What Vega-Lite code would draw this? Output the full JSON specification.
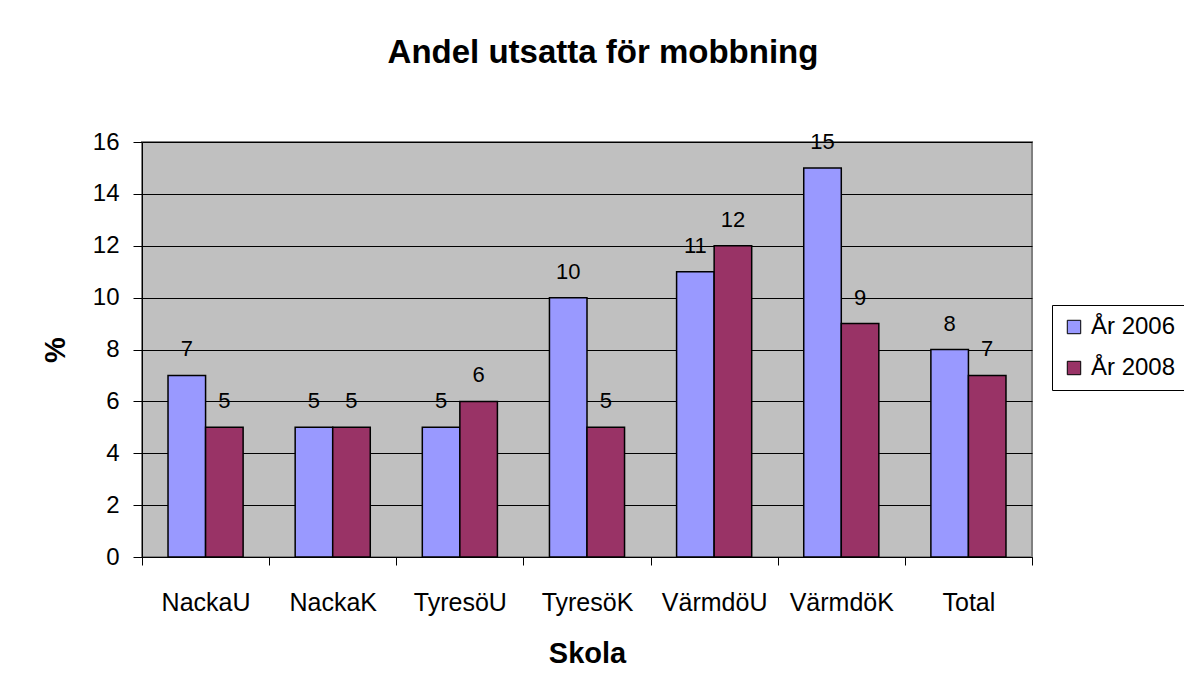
{
  "$schema": "https://vega.github.io/schema/vega-lite/v6.json",
  "width": 890,
  "height": 415,
  "autosize": {"type": "none"},
  "padding": {"left": 142, "top": 142, "right": 152, "bottom": 136},
  "background": "white",
  "title": {
    "text": "Andel utsatta för mobbning",
    "fontSize": 33,
    "fontWeight": "bold",
    "color": "black",
    "anchor": "middle",
    "frame": "group",
    "dx": 16,
    "offset": 60
  },
  "data": {
    "values": [
      {"Skola": "NackaU", "Serie": "År 2006", "Varde": 7},
      {"Skola": "NackaU", "Serie": "År 2008", "Varde": 5},
      {"Skola": "NackaK", "Serie": "År 2006", "Varde": 5},
      {"Skola": "NackaK", "Serie": "År 2008", "Varde": 5},
      {"Skola": "TyresöU", "Serie": "År 2006", "Varde": 5},
      {"Skola": "TyresöU", "Serie": "År 2008", "Varde": 6},
      {"Skola": "TyresöK", "Serie": "År 2006", "Varde": 10},
      {"Skola": "TyresöK", "Serie": "År 2008", "Varde": 5},
      {"Skola": "VärmdöU", "Serie": "År 2006", "Varde": 11},
      {"Skola": "VärmdöU", "Serie": "År 2008", "Varde": 12},
      {"Skola": "VärmdöK", "Serie": "År 2006", "Varde": 15},
      {"Skola": "VärmdöK", "Serie": "År 2008", "Varde": 9},
      {"Skola": "Total", "Serie": "År 2006", "Varde": 8},
      {"Skola": "Total", "Serie": "År 2008", "Varde": 7}
    ]
  },
  "encoding": {
    "x": {
      "field": "Skola",
      "type": "nominal",
      "sort": null,
      "scale": {"paddingInner": 0, "paddingOuter": 0},
      "axis": {
        "title": "Skola",
        "labelAngle": 0,
        "tickBand": "extent",
        "tickSize": 8,
        "labelPadding": 25,
        "titlePadding": 24,
        "grid": false
      }
    },
    "xOffset": {
      "field": "Serie",
      "type": "nominal",
      "scale": {"paddingInner": 0, "paddingOuter": 0.693}
    },
    "y": {
      "field": "Varde",
      "type": "quantitative",
      "scale": {"domain": [0, 16], "nice": false},
      "axis": {
        "title": "%",
        "values": [0, 2, 4, 6, 8, 10, 12, 14, 16],
        "tickSize": 9,
        "labelPadding": 14,
        "labelFontSize": 24,
        "titlePadding": 22,
        "grid": true
      }
    }
  },
  "layer": [
    {
      "mark": {"type": "bar", "stroke": "black", "strokeWidth": 1.5},
      "encoding": {
        "color": {
          "field": "Serie",
          "type": "nominal",
          "scale": {"domain": ["År 2006", "År 2008"], "range": ["#9999FF", "#993366"]},
          "legend": {
            "title": null,
            "orient": "none",
            "legendX": 910,
            "legendY": 163,
            "strokeColor": "black",
            "fillColor": "white",
            "padding": 10,
            "rowPadding": 17,
            "symbolType": "square",
            "symbolSize": 180,
            "symbolStrokeColor": "black",
            "symbolStrokeWidth": 1,
            "symbolOpacity": 1,
            "labelFontSize": 24,
            "labelColor": "black",
            "labelOffset": 5
          }
        }
      }
    },
    {
      "mark": {"type": "text", "fontSize": 22, "color": "black", "baseline": "alphabetic", "dy": -19},
      "encoding": {
        "text": {"field": "Varde", "type": "quantitative"}
      }
    }
  ],
  "config": {
    "font": "Liberation Sans",
    "view": {"fill": "#C0C0C0", "stroke": "#808080", "strokeWidth": 2},
    "axis": {
      "domainColor": "black",
      "domainWidth": 1,
      "tickColor": "black",
      "tickWidth": 1,
      "gridColor": "black",
      "gridWidth": 1,
      "gridOpacity": 1,
      "labelFontSize": 25,
      "labelColor": "black",
      "titleFontSize": 29,
      "titleFontWeight": "bold",
      "titleColor": "black"
    }
  }
}
